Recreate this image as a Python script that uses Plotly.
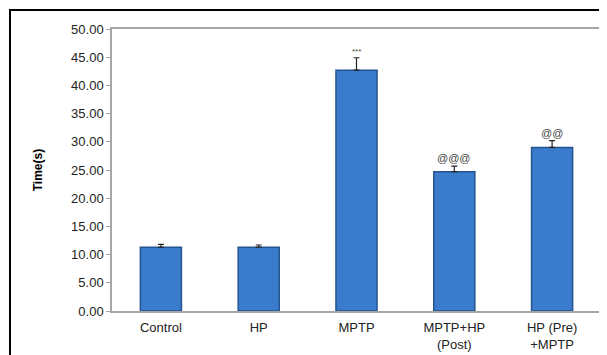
import plotly.graph_objects as go

categories = ["Control", "HP", "MPTP", "MPTP+HP<br>(Post)", "HP (Pre)<br>+MPTP"]
values = [11.3, 11.3, 42.7, 24.7, 29.0]
errors = [0.5, 0.4, 2.2, 1.0, 1.2]
marks = ["", "", "***", "@@@", "@@"]
tick_vals = [0, 5, 10, 15, 20, 25, 30, 35, 40, 45, 50]
tick_text = [f"{v:.2f}" for v in tick_vals]

fig = go.Figure()
fig.add_trace(go.Bar(
    x=categories, y=values, width=0.42,
    marker=dict(color="#3b7bcb", line=dict(color="#25558f", width=1.5)),
    error_y=dict(type="data", array=errors, arrayminus=[0]*len(errors), symmetric=False,
                 color="#222222", thickness=1.2, width=3),
))

for c, v, e, m in zip(categories, values, errors, marks):
    if m:
        fig.add_annotation(x=c, y=v + e, text=m, showarrow=False, yanchor="bottom",
                           yshift=0, font=dict(family="Arial", size=8 if m == "***" else 11,
                                               color="#444444"))

# page body has an 8px margin; figure is sized so the plot area sits where the reference has it
fig.add_shape(type="rect", xref="paper", yref="paper", x0=-0.2086, x1=1.05, y0=-0.25, y1=1.0674,
              line=dict(color="black", width=2), fillcolor="rgba(0,0,0,0)")

fig.update_layout(
    width=599, height=347,
    margin=dict(l=104, r=6, t=21, b=44, autoexpand=False),
    paper_bgcolor="white", plot_bgcolor="white",
    showlegend=False,
    font=dict(family="Arial", size=13, color="#222222"),
    xaxis=dict(showline=True, linecolor="#a6a6a6", linewidth=1.5, mirror=True,
               ticks="", showgrid=False, tickfont=dict(size=13), automargin=False,
               ticklabelstandoff=4),
    yaxis=dict(range=[0, 50], tickvals=tick_vals, ticktext=tick_text, showgrid=False,
               showline=True, linecolor="#a6a6a6", linewidth=1.5, mirror=True,
               ticks="outside", ticklen=4, tickcolor="#a6a6a6", zeroline=False,
               tickfont=dict(size=13), automargin=False,
               title=dict(text="<b>Time(s)</b>", font=dict(size=12, color="black"), standoff=26)),
)

fig.write_html("out.html")
